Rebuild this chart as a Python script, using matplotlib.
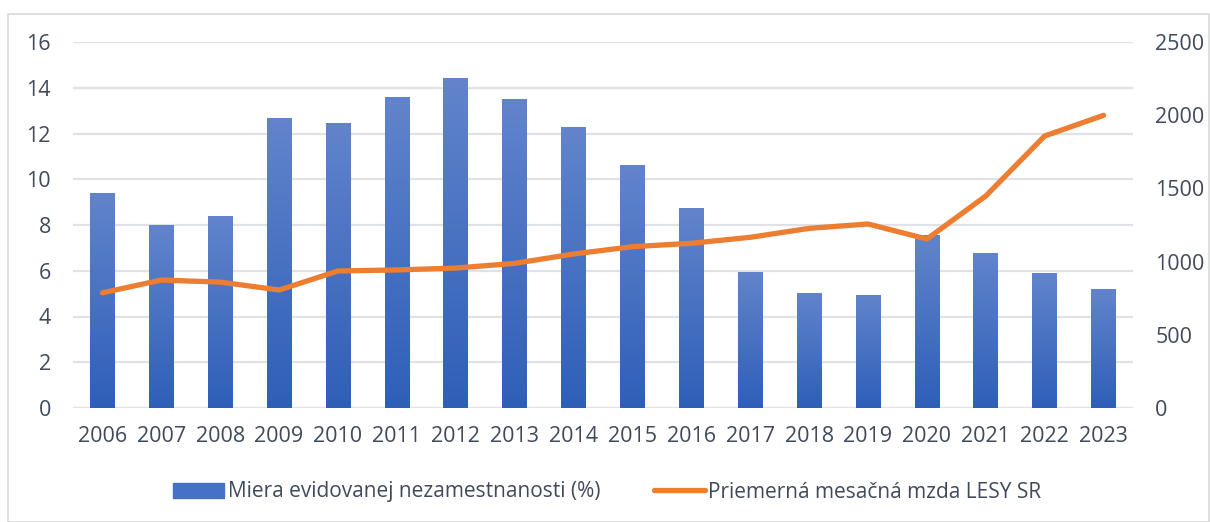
import numpy as np
import matplotlib.pyplot as plt
from matplotlib.patches import Rectangle
from matplotlib.lines import Line2D
from matplotlib.colors import LinearSegmentedColormap

# data
years = [str(y) for y in range(2006, 2024)]
unemployment = [9.4, 8.0, 8.4, 12.68, 12.46, 13.6, 14.43, 13.5, 12.28, 10.62,
                8.74, 5.95, 5.03, 4.94, 7.56, 6.78, 5.9, 5.2]
wage = [787, 874, 860, 806, 936, 943, 956, 988, 1052, 1102,
        1125, 1166, 1227, 1257, 1154, 1448, 1858, 1999]
left_ticks = [0, 2, 4, 6, 8, 10, 12, 14, 16]
right_ticks = [0, 500, 1000, 1500, 2000, 2500]

label_bar = "Miera evidovanej nezamestnanosti (%)"
label_line = "Priemerná mesačná mzda LESY SR"

txt_col = "#404a5a"
grid_col = "#dfe2e6"
orange = "#ed7d31"
plt.rcParams['font.family'] = ['Open Sans', 'DejaVu Sans']

fig = plt.figure(figsize=(12.1, 5.22), dpi=100)
# chart border
fig.patches.append(Rectangle((8 / 1210, 0.0), 1 - 8 / 1210 - 0.001, 1 - 14 / 522,
                             transform=fig.transFigure, fill=False,
                             edgecolor="#d9d9d9", lw=1.2))

ax = fig.add_axes([73 / 1210, 114 / 522, 1060 / 1210, 366 / 522])
x = np.arange(len(years))
bars = ax.bar(x, unemployment, width=0.42, color="#4472c4", zorder=2)

# vertical gradient inside each bar
cmap = LinearSegmentedColormap.from_list("g", ["#2e5fb8", "#6284cc"])
grad = np.linspace(0, 1, 256).reshape(-1, 1)
for b in bars:
    im = ax.imshow(grad, cmap=cmap, origin="lower", aspect="auto",
                   extent=[b.get_x(), b.get_x() + b.get_width(), 0, b.get_height()],
                   zorder=2.1)
    im.set_clip_path(b)

ax.set_xlim(-0.5, len(years) - 0.5)
ax.set_ylim(0, 16)
ax.set_yticks(left_ticks)
ax.set_xticks(x)
ax.set_xticklabels(years)
ax.yaxis.grid(True, color=grid_col, lw=1.6, zorder=0)
ax.set_axisbelow(True)
for s in ax.spines.values():
    s.set_visible(False)
ax.tick_params(length=0, labelsize=15.5, colors=txt_col)
ax.tick_params(axis="x", pad=13)
ax.tick_params(axis="y", pad=16)

ax2 = ax.twinx()
ax2.plot(x, wage, color=orange, lw=3.8, solid_capstyle="round",
         solid_joinstyle="round", zorder=3)
ax2.set_ylim(0, 2500)
ax2.set_yticks(right_ticks)
for s in ax2.spines.values():
    s.set_visible(False)
ax2.tick_params(length=0, labelsize=15.5, colors=txt_col, pad=16)

handles = [Rectangle((0, 0), 1, 1, color="#4472c4"),
           Line2D([0], [0], color=orange, lw=3.8, solid_capstyle="round")]
fig.legend(handles, [label_bar, label_line], loc="center", ncol=2,
           bbox_to_anchor=(0.502, 30 / 522), frameon=False, fontsize=15,
           labelcolor=txt_col, handlelength=2.45, handletextpad=0.15,
           columnspacing=2.6)

fig.savefig("out.png", dpi=100)
